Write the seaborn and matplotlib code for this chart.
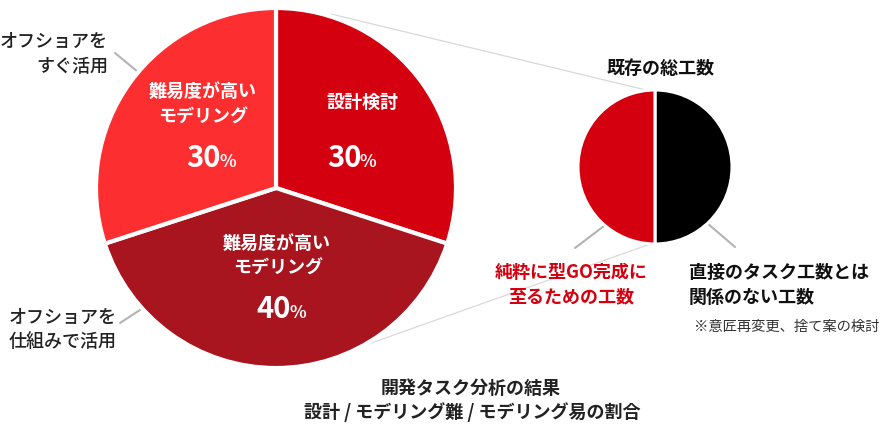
import matplotlib
matplotlib.use("Agg")
import matplotlib.pyplot as plt
import seaborn as sns

# ---------------- data ----------------
big_categories = ["設計検討", "難易度が高い\nモデリング", "難易度が高い\nモデリング"]
big_values = [30, 40, 30]
big_colors = ["#d5000f", "#a9151f", "#fd2e30"]

small_categories = ["直接のタスク工数とは\n関係のない工数", "純粋に型GO完成に\n至るための工数"]
small_values = [50, 50]
small_colors = ["#000000", "#d5000f"]

top_left_note = ["オフショアを", "すぐ活用"]
bottom_left_note = ["オフショアを", "仕組みで活用"]
small_title = "既存の総工数"
small_note = "※意匠再変更、捨て案の検討"
caption = ["開発タスク分析の結果", "設計 / モデリング難 / モデリング易の割合"]

# ---------------- style ----------------
sns.set_theme(style="white")
plt.rcParams["font.family"] = ["Noto Sans CJK JP", "DejaVu Sans"]

W, H = 884, 430
fig = plt.figure(figsize=(W / 100, H / 100), dpi=100)
ax = fig.add_axes([0, 0, 1, 1])


def Y(y):
    return H - y


# connector lines (behind pies)
ax.plot([331, 650], [Y(14), Y(91)], color="#d9d9d9", lw=0.9, zorder=1)
ax.plot([360, 653], [Y(347), Y(243)], color="#d9d9d9", lw=0.9, zorder=1)

# big pie
ax.pie(big_values, colors=big_colors, startangle=90, counterclock=False,
       center=(276, Y(188)), radius=180,
       wedgeprops=dict(edgecolor="white", linewidth=3, zorder=2))

# small pie
ax.pie(small_values, colors=small_colors, startangle=90, counterclock=False,
       center=(655, Y(167)), radius=77,
       wedgeprops=dict(edgecolor="white", linewidth=2.2, zorder=2))

# leader lines
lead = dict(color="#b3b3b3", lw=1.5, zorder=1)
ax.plot([115, 138], [Y(53), Y(72)], **lead)
ax.plot([120, 143], [Y(323), Y(308)], **lead)
ax.plot([575, 604], [Y(248), Y(226)], **lead)
ax.plot([707, 735], [Y(223), Y(247)], **lead)

# labels inside big pie
inner = dict(color="white", fontsize=13, fontweight="bold", ha="center", va="center", zorder=5)
# 設計検討
ax.text(362, Y(102), big_categories[0], **inner)
# 40% slice
l1, l2 = big_categories[1].split("\n")
ax.text(277, Y(243), l1, **inner)
ax.text(278, Y(268), l2, **inner)
# 30% top-left slice
l1, l2 = big_categories[2].split("\n")
ax.text(203, Y(91), l1, **inner)
ax.text(203, Y(117), l2, **inner)

num = dict(color="white", fontsize=21, fontweight="bold", ha="right", va="baseline", zorder=5)
pct = dict(color="white", fontsize=12.5, fontweight="bold", ha="left", va="baseline", zorder=5)
for (xr, yb, v) in [(362, 167, big_values[0]), (291, 318, big_values[1]), (221, 167, big_values[2])]:
    ax.text(xr, Y(yb), f"{v}", **num)
    ax.text(xr - 2, Y(yb), "%", **pct)

# outside notes (left)
outer = dict(color="#222222", fontsize=13, fontweight="medium", va="center")
ax.text(108, Y(42), top_left_note[0], ha="right", **outer)
ax.text(108, Y(67), top_left_note[1], ha="right", **outer)
ax.text(9, Y(318), bottom_left_note[0], ha="left", **outer)
ax.text(9, Y(342), bottom_left_note[1], ha="left", **outer)

# small pie texts
bold = dict(fontsize=13, fontweight="bold", va="center")
ax.text(661, Y(68), small_title, color="#111111", ha="center", **bold)
r1, r2 = small_categories[1].split("\n")
ax.text(571, Y(272), r1, color="#d5000f", ha="center", **bold)
ax.text(571, Y(297), r2, color="#d5000f", ha="center", **bold)
b1, b2 = small_categories[0].split("\n")
ax.text(689, Y(272), b1, color="#111111", ha="left", **bold)
ax.text(689, Y(297), b2, color="#111111", ha="left", **bold)
ax.text(694, Y(327), small_note, color="#333333", fontsize=10.3, ha="left", va="center")

# caption
ax.text(471, Y(388), caption[0], color="#222222", ha="center", **bold)
ax.text(472, Y(412), caption[1], color="#222222", ha="center", **bold)

ax.set_xlim(0, W)
ax.set_ylim(0, H)
ax.set_aspect("equal")
ax.axis("off")

fig.savefig("out.png", dpi=100, facecolor="white")
